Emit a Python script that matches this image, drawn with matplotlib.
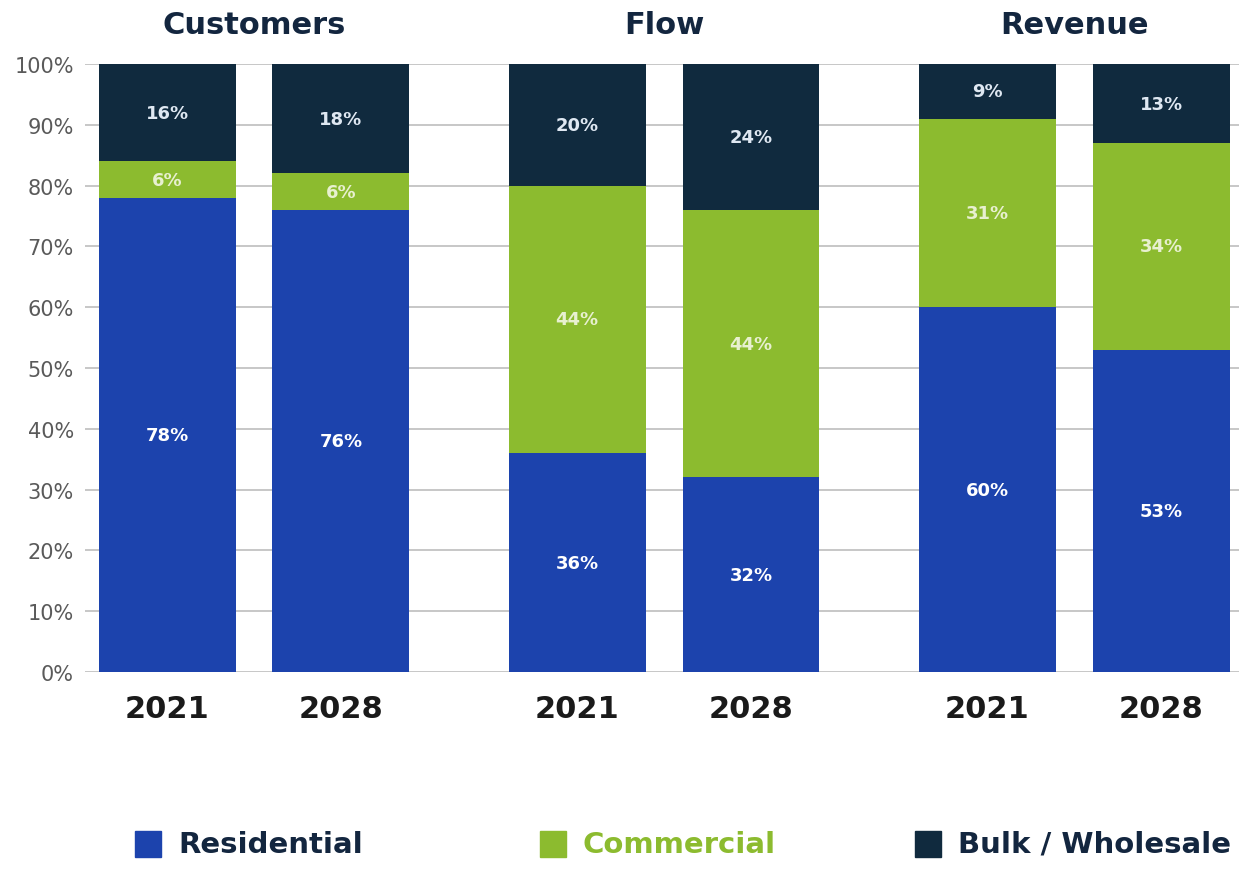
import matplotlib
matplotlib.use("Agg")
import matplotlib.pyplot as plt
import numpy as np

groups = ["Customers", "Flow", "Revenue"]
years = ["2021", "2028"]
series = ["Residential", "Commercial", "Bulk / Wholesale"]
residential = [78, 76, 36, 32, 60, 53]
commercial = [6, 6, 44, 44, 31, 34]
bulk = [16, 18, 20, 24, 9, 13]
yticks = [0, 10, 20, 30, 40, 50, 60, 70, 80, 90, 100]

colors = ["#1c43ad", "#8cbb2f", "#102a3e"]
navy = "#13263f"
label_colors = ["white", "#e8f0d0", "#dfe8f2"]

fig = plt.figure(figsize=(12.39, 8.70), dpi=100)
ax = fig.add_axes([85/1239, 1-673/870, (1239-85)/1239, (673-65)/870])

off = 0.212
width = 0.334
xs = []
for g in range(len(groups)):
    for k in range(len(years)):
        xs.append(g + (k - 0.5) * 2 * off)
xs = np.array(xs)

bottom = np.zeros(len(xs))
data = [residential, commercial, bulk]
for s, vals in enumerate(data):
    vals = np.array(vals, dtype=float)
    ax.bar(xs, vals, width, bottom=bottom, color=colors[s], zorder=3, label=series[s])
    for x, b, v in zip(xs, bottom, vals):
        ax.text(x, b + v / 2, f"{int(v)}%", ha="center", va="center",
                color=label_colors[s], fontsize=13, fontweight="bold", zorder=4)
    bottom += vals

ax.set_ylim(0, 100)
ax.set_xlim(-0.412, 2.402)
ax.set_yticks(yticks)
ax.set_yticklabels([f"{t}%" for t in yticks], fontsize=15, color="#5a5a5a")
ax.yaxis.grid(True, color="#bdbdbd", linewidth=1.2, zorder=0)
ax.set_xticks([])
for sp in ax.spines.values():
    sp.set_visible(False)
ax.tick_params(axis="y", length=0, pad=8)

for x, i in zip(xs, range(len(xs))):
    ax.text(x, -6, years[i % 2], ha="center", va="center", fontsize=22,
            fontweight="bold", color="#1a1a1a", clip_on=False)

for g, name in enumerate(groups):
    ax.text(g, 106.5, name, ha="center", va="center", fontsize=22,
            fontweight="bold", color=navy, clip_on=False)

# legend
leg_x = [148, 553, 928]
leg_text_colors = [navy, "#8cbb2f", navy]
for s in range(3):
    fig.patches.append(plt.Rectangle(((leg_x[s]-13)/1239, 1-858/870), 26/1239, 26/870,
                                     transform=fig.transFigure, color=colors[s]))
    fig.text((leg_x[s]+30)/1239, 1-845/870, series[s], ha="left", va="center",
             fontsize=21, fontweight="bold", color=leg_text_colors[s])

fig.savefig("out.png", dpi=100)
